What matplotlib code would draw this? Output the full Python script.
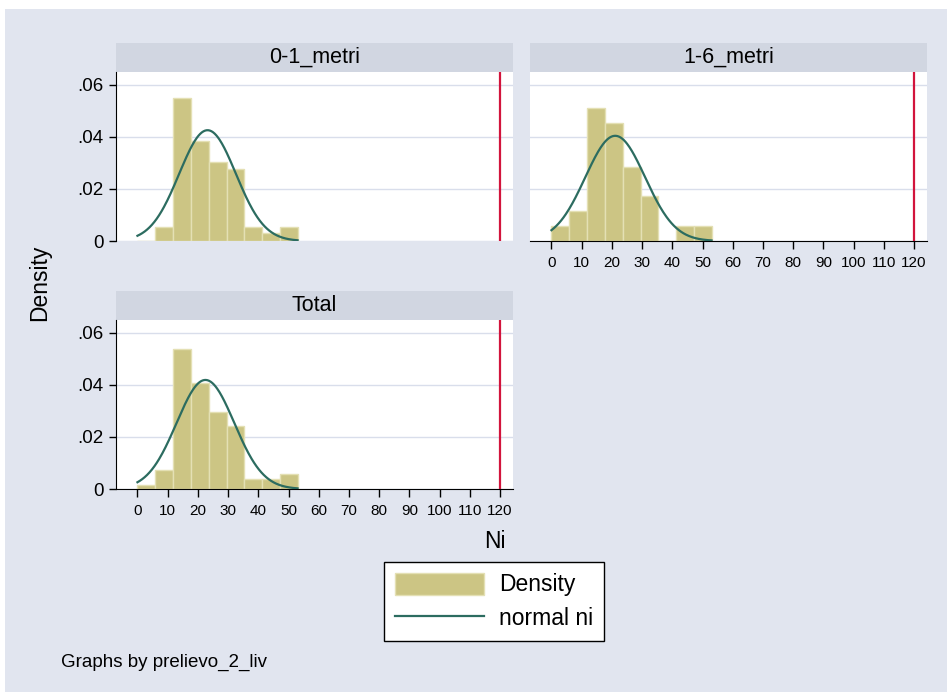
import numpy as np
import matplotlib.pyplot as plt
from matplotlib.patches import Rectangle, Patch
from matplotlib.lines import Line2D

plt.rcParams['font.family'] = ['Liberation Sans', 'DejaVu Sans']

# histogram bins of Ni (width ~5.9 starting at the minimum)
bin_edges = [0, 5.9, 11.8, 17.7, 23.6, 29.5, 35.4, 41.3, 47.2, 53.1]
dens_0_1 = [0, 0.0055, 0.0549, 0.0384, 0.0303, 0.0276, 0.0055, 0.0032, 0.0055]
dens_1_6 = [0.0057, 0.0115, 0.0511, 0.0454, 0.0285, 0.0172, 0, 0.0057, 0.0057]
dens_total = [0.0017, 0.0074, 0.0537, 0.0408, 0.0297, 0.0241, 0.0037, 0.0037, 0.0056]

# fitted normal for each group
ni_mean = [23.2, 21.1, 22.5]
ni_sd = [9.39, 9.89, 9.54]
ni_min, ni_max = 0, 53

groups = ['0-1_metri', '1-6_metri', 'Total']
x_ticks = list(range(0, 121, 10))
y_ticks = [0, 0.02, 0.04, 0.06]
y_labels = ['0', '.02', '.04', '.06']
ref_line = 120

W, H = 947, 692
BG = '#E1E5EF'
STRIP = '#D1D6E1'
BAR = '#CCC584'
BAR_EDGE = '#E4E0B4'
CURVE = '#2C6C60'
RED = '#D2143C'
GRID = '#D9DEEB'


def fbox(x0, y0, x1, y1):
    return [x0 / W, 1 - y1 / H, (x1 - x0) / W, (y1 - y0) / H]


fig = plt.figure(figsize=(W / 100, H / 100), dpi=100, facecolor='white')
fig.patches.append(Rectangle((5 / W, 0), 1, 1 - 9 / H, transform=fig.transFigure,
                             facecolor=BG, edgecolor='none', zorder=-5))

panels = [
    (116, 72, 513, 241, dens_0_1),
    (530, 72, 927, 241, dens_1_6),
    (116, 320, 513, 489, dens_total),
]

xs = np.linspace(ni_min, ni_max, 200)
widths = np.diff(bin_edges)

for i, (x0, y0, x1, y1, dens) in enumerate(panels):
    ax = fig.add_axes(fbox(x0, y0, x1, y1))
    ax.set_facecolor('white')

    ax.bar(bin_edges[:-1], dens, width=widths, align='edge', color=BAR,
           edgecolor=BAR_EDGE, linewidth=1, zorder=2)
    pdf = np.exp(-0.5 * ((xs - ni_mean[i]) / ni_sd[i]) ** 2) / (ni_sd[i] * np.sqrt(2 * np.pi))
    ax.plot(xs, pdf, color=CURVE, lw=1.6, zorder=3)
    ax.axvline(ref_line, color=RED, lw=1.6, zorder=3)

    ax.set_xlim(-7.1, 124.3)
    ax.set_ylim(0, 0.0648)
    ax.set_yticks(y_ticks)
    ax.set_yticklabels(y_labels)
    ax.set_xticks(x_ticks)
    ax.yaxis.grid(True, color=GRID, lw=1, zorder=0)
    ax.set_axisbelow(True)
    ax.tick_params(axis='y', direction='out', length=5, width=1, pad=4, labelsize=13.5)
    ax.tick_params(axis='x', direction='out', length=5.5, width=1, pad=5.5, labelsize=11)

    for s in ('top', 'right'):
        ax.spines[s].set_visible(False)
    if i == 0:
        ax.spines['bottom'].set_visible(False)
        ax.tick_params(axis='x', length=0, labelbottom=False)
    if i == 1:
        ax.spines['left'].set_visible(False)
        ax.tick_params(axis='y', length=0, labelleft=False)

    # group header strip
    hy0 = y0 - 29.5
    fig.patches.append(Rectangle((x0 / W, 1 - y0 / H), (x1 - x0) / W, 29.5 / H,
                                 transform=fig.transFigure, facecolor=STRIP,
                                 edgecolor='none', zorder=-1))
    fig.text((x0 + x1) / 2 / W, 1 - (hy0 + y0) / 2 / H, groups[i],
             ha='center', va='center', fontsize=15.5)

fig.text(40 / W, 1 - 283 / H, 'Density', rotation=90, ha='center', va='center', fontsize=16.5)
fig.text(495 / W, 1 - 541 / H, 'Ni', ha='center', va='center', fontsize=16.5)
fig.text(61 / W, 1 - 662 / H, 'Graphs by prelievo_2_liv', ha='left', va='center', fontsize=13.5)

handles = [Patch(facecolor=BAR, edgecolor=BAR_EDGE),
           Line2D([], [], color=CURVE, lw=1.6)]
leg = fig.legend(handles, ['Density', 'normal ni'], loc='center',
                 bbox_to_anchor=(494 / W, 1 - 601.5 / H), fontsize=16.5,
                 frameon=True, fancybox=False, framealpha=1, edgecolor='black',
                 handlelength=3.9, handleheight=1.1, handletextpad=0.65,
                 labelspacing=0.45, borderpad=0.45, borderaxespad=0)
leg.get_frame().set_linewidth(1)

fig.savefig('out.png', dpi=100, facecolor='white')
